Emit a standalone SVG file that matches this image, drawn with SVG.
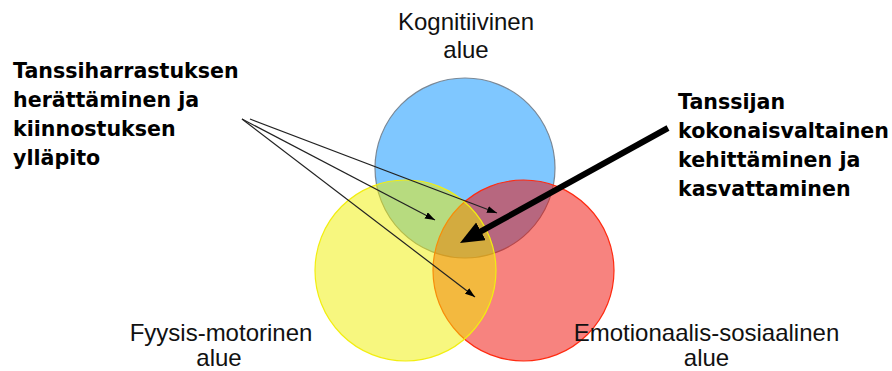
<svg xmlns="http://www.w3.org/2000/svg" width="892" height="371" viewBox="0 0 892 371">
<style>
.lbl{font-family:"Liberation Sans",Arial,sans-serif;font-size:24px;fill:#111;text-anchor:middle}
.bold{font-family:"DejaVu Sans",Verdana,sans-serif;font-weight:bold;font-size:20.6px;fill:#000}
.thin{stroke:#222;stroke-width:1.2;fill:none;marker-end:url(#ah)}
.thick{stroke:#000;stroke-width:6;fill:none;marker-end:url(#big)}
</style>
<defs>
<marker id="ah" markerUnits="userSpaceOnUse" markerWidth="11" markerHeight="8" refX="10" refY="3.5" orient="auto"><path d="M0,0 L10,3.5 L0,7 z" fill="#000"/></marker>
<marker id="big" markerUnits="userSpaceOnUse" markerWidth="26" markerHeight="22" refX="9" refY="10" orient="auto"><path d="M0,0 L24,10 L0,20 z" fill="#000"/></marker>
</defs>
<rect width="892" height="371" fill="#fff"/>
<g id="kognitiivinen">
<circle cx="465" cy="168" r="90" fill="#0090ff" fill-opacity="0.5" stroke="#7a8896" stroke-width="1.2"/>
<text class="lbl" x="466" y="30">Kognitiivinen</text>
<text class="lbl" x="466" y="58">alue</text>
</g>
<g id="emotionaalis">
<circle cx="523.5" cy="270.5" r="90.5" fill="#f00800" fill-opacity="0.5" stroke="#ff2a10" stroke-width="1.2"/>
<text class="lbl" x="706.5" y="341">Emotionaalis-sosiaalinen</text>
<text class="lbl" x="706.5" y="366">alue</text>
</g>
<g id="fyysis">
<circle cx="405.5" cy="270.5" r="90.5" fill="#f0f000" fill-opacity="0.5" stroke="#f2ee10" stroke-width="1.2"/>
<text class="lbl" x="221" y="341">Fyysis-motorinen</text>
<text class="lbl" x="219" y="366">alue</text>
</g>
<g id="harrastus">
<text class="bold" x="13" y="78">Tanssiharrastuksen</text>
<text class="bold" x="13" y="107">herättäminen ja</text>
<text class="bold" x="13" y="136">kiinnostuksen</text>
<text class="bold" x="13" y="165">ylläpito</text>
</g>
<g id="kokonais">
<text class="bold" x="678" y="109">Tanssijan</text>
<text class="bold" x="678" y="138">kokonaisvaltainen</text>
<text class="bold" x="678" y="167">kehittäminen ja</text>
<text class="bold" x="678" y="196">kasvattaminen</text>
</g>
<g id="connectors">
<line class="thin" x1="242" y1="119" x2="435" y2="220"/>
<line class="thin" x1="250" y1="119" x2="497" y2="213"/>
<line class="thin" x1="242" y1="119" x2="475" y2="297"/>
<line class="thick" x1="668" y1="128" x2="473.1" y2="235.7"/>
</g>
</svg>
